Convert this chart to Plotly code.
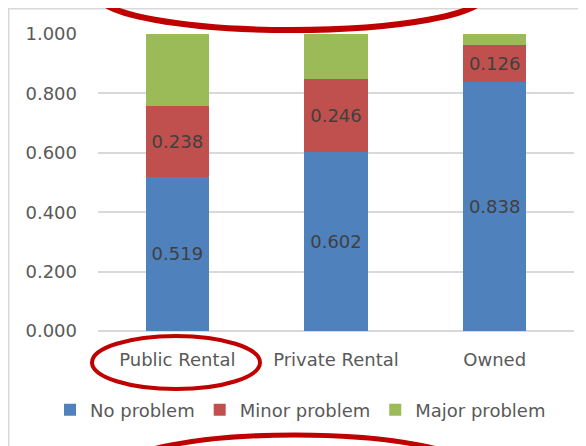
import plotly.graph_objects as go

# Housing tenure vs. share of households by problem severity
TENURE = ["Public Rental", "Private Rental", "Owned"]
NO_PROBLEM = [0.519, 0.602, 0.838]
MINOR_PROBLEM = [0.238, 0.246, 0.126]
MAJOR_PROBLEM = [0.243, 0.152, 0.036]
Y_TICKS = [0.0, 0.2, 0.4, 0.6, 0.8, 1.0]

COLORES = {
    "No problem": "#4F81BD",
    "Minor problem": "#C0504D",
    "Major problem": "#9BBB59",
}

# the page body keeps its 8px default margin, so the figure is a bit smaller
W, H = 578, 438
L, R, T, B = 90, 12, 26, 115
PW, PH = W - L - R, H - T - B
OFF = 8


def px(x):
    """page pixel x -> paper fraction"""
    return (x - OFF - L) / PW


def py(y):
    """page pixel y -> paper fraction"""
    return (H - B - (y - OFF)) / PH


FONT = "DejaVu Sans, Verdana, sans-serif"

fig = go.Figure()
series = [
    ("No problem", NO_PROBLEM, True),
    ("Minor problem", MINOR_PROBLEM, True),
    ("Major problem", MAJOR_PROBLEM, False),
]
for name, vals, labels in series:
    fig.add_trace(
        go.Bar(
            x=TENURE,
            y=vals,
            name=name,
            marker=dict(color=COLORES[name], line=dict(width=0)),
            text=[f"{v:.3f}" for v in vals] if labels else None,
            textposition="inside" if labels else "none",
            insidetextanchor="middle",
            textfont=dict(family=FONT, size=18, color="#404040"),
            hoverinfo="skip",
        )
    )

# chart frame
fig.add_shape(type="rect", xref="paper", yref="paper",
              x0=px(8.75), x1=px(620), y0=py(8.75), y1=py(480),
              line=dict(color="#D9D9D9", width=1.5), layer="below")

red = "#C00000"
# top ellipse
fig.add_shape(type="circle", xref="paper", yref="paper",
              x0=px(98), x1=px(485), y0=py(30), y1=py(-40),
              line=dict(color=red, width=6))
# bottom ellipse
fig.add_shape(type="circle", xref="paper", yref="paper",
              x0=px(118), x1=px(472), y0=py(435), y1=py(505),
              line=dict(color=red, width=5))
# ellipse round "Public Rental"
fig.add_shape(type="circle", xref="paper", yref="paper",
              x0=px(92), x1=px(260), y0=py(336), y1=py(389),
              line=dict(color=red, width=4))

fig.update_layout(
    width=W,
    height=H,
    margin=dict(l=L, r=R, t=T, b=B, autoexpand=False),
    barmode="stack",
    bargap=0.6,
    plot_bgcolor="white",
    paper_bgcolor="white",
    font=dict(family=FONT, size=18, color="#595959"),
    showlegend=True,
    legend=dict(
        orientation="h",
        x=px(50),
        xanchor="left",
        y=py(410),
        yanchor="middle",
        font=dict(size=18, color="#595959"),
        traceorder="normal",
        itemwidth=30,
    ),
    xaxis=dict(
        automargin=False,
        showline=False,
        ticks="",
        ticklabelstandoff=16,
        tickfont=dict(size=18),
    ),
    yaxis=dict(
        automargin=False,
        range=[0, 1.0],
        tickvals=Y_TICKS,
        tickformat=".3f",
        showgrid=True,
        gridcolor="#D9D9D9",
        gridwidth=1.5,
        zeroline=True,
        zerolinecolor="#D9D9D9",
        zerolinewidth=1.5,
        ticks="",
        ticklabelstandoff=20,
        tickfont=dict(size=18),
    ),
)

fig.write_html("out.html")
